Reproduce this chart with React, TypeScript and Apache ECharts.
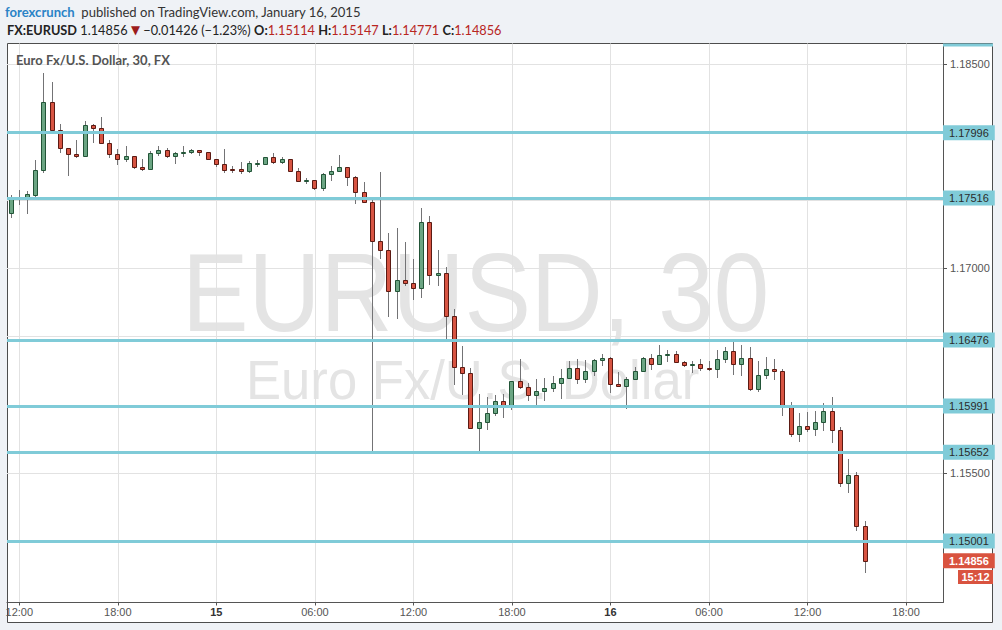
import React, { useEffect, useRef } from "react";
import * as echarts from "echarts";

// Each candle: [open, high, low, close] — 30-minute EUR/USD candles
const jan14Candles: number[][] = [
  [1.17409, 1.17539, 1.1738, 1.17507],
  [1.17507, 1.17575, 1.17473, 1.17517],
  [1.17512, 1.17568, 1.17409, 1.17544],
  [1.17539, 1.17795, 1.17526, 1.1772],
  [1.1772, 1.18434, 1.17707, 1.18221],
  [1.18221, 1.18368, 1.17996, 1.18018],
  [1.18018, 1.1806, 1.17856, 1.17881],
  [1.17881, 1.17881, 1.17685, 1.17842],
  [1.17842, 1.17942, 1.1782, 1.17827],
  [1.17827, 1.18081, 1.17827, 1.1805],
  [1.1805, 1.1806, 1.1793, 1.18032],
  [1.18032, 1.18109, 1.17918, 1.17918],
  [1.17918, 1.17942, 1.1782, 1.17842],
  [1.17842, 1.17874, 1.17768, 1.17805],
  [1.17805, 1.17898, 1.1779, 1.17823],
  [1.17823, 1.17827, 1.17737, 1.17746],
  [1.17746, 1.17803, 1.17724, 1.17732],
  [1.17732, 1.17864, 1.17732, 1.17845],
  [1.17845, 1.17898, 1.17832, 1.17867],
  [1.17867, 1.17881, 1.1782, 1.17827],
  [1.17827, 1.17856, 1.17773, 1.17845],
  [1.17845, 1.17898, 1.17825, 1.17852],
  [1.17852, 1.17876, 1.17845, 1.17869],
  [1.17869, 1.17872, 1.17834, 1.17852],
  [1.17852, 1.17852, 1.17805, 1.17805],
];

const jan15Candles: number[][] = [
  [1.17805, 1.17805, 1.17751, 1.17768],
  [1.17768, 1.17876, 1.17707, 1.17724],
  [1.17729, 1.17751, 1.17707, 1.17724],
  [1.17729, 1.17781, 1.17702, 1.17717],
  [1.17717, 1.17788, 1.17707, 1.17771],
  [1.17768, 1.17795, 1.17754, 1.17771],
  [1.17768, 1.17815, 1.17768, 1.17815],
  [1.17815, 1.17847, 1.17773, 1.17779],
  [1.17779, 1.17815, 1.17773, 1.17803],
  [1.17803, 1.17803, 1.17713, 1.17713],
  [1.17713, 1.17737, 1.17639, 1.17639],
  [1.17639, 1.17661, 1.17625, 1.17649],
  [1.17649, 1.17651, 1.17585, 1.17592],
  [1.17592, 1.17702, 1.17578, 1.17691],
  [1.17691, 1.17751, 1.17651, 1.17713],
  [1.17713, 1.17832, 1.17713, 1.17742],
  [1.17742, 1.17745, 1.17612, 1.17669],
  [1.17669, 1.17678, 1.17478, 1.17563],
  [1.17563, 1.17632, 1.1749, 1.1749],
  [1.1749, 1.17502, 1.15652, 1.17204],
  [1.17204, 1.17705, 1.17079, 1.17138],
  [1.17138, 1.17258, 1.16653, 1.16837],
  [1.16837, 1.17294, 1.16637, 1.16913],
  [1.16913, 1.17194, 1.16881, 1.16895],
  [1.16895, 1.17069, 1.16776, 1.16859],
  [1.16859, 1.17443, 1.16793, 1.17338],
  [1.17338, 1.17385, 1.16886, 1.16954],
  [1.16954, 1.17135, 1.16881, 1.16964],
  [1.16964, 1.17008, 1.1647, 1.16649],
  [1.16649, 1.16703, 1.16155, 1.16279],
  [1.16279, 1.16431, 1.16079, 1.16235],
  [1.16235, 1.16268, 1.15833, 1.15833],
  [1.15833, 1.16079, 1.15663, 1.15871],
  [1.15871, 1.16057, 1.15825, 1.15937],
  [1.15937, 1.16072, 1.15925, 1.16025],
  [1.16025, 1.16079, 1.15908, 1.15986],
  [1.15986, 1.16172, 1.15967, 1.16172],
  [1.16172, 1.16334, 1.16123, 1.16133],
  [1.16133, 1.16158, 1.16035, 1.1607],
  [1.1607, 1.16187, 1.16008, 1.16099],
  [1.16099, 1.16194, 1.16035, 1.16121],
  [1.16121, 1.16211, 1.16099, 1.16158],
  [1.16158, 1.1626, 1.16052, 1.16194],
  [1.16194, 1.16319, 1.16194, 1.16268],
  [1.16268, 1.16334, 1.16158, 1.16187],
  [1.16187, 1.16326, 1.16165, 1.16246],
  [1.16246, 1.16338, 1.16216, 1.16326],
  [1.16326, 1.16372, 1.1629, 1.16341],
];

const jan16Candles: number[][] = [
  [1.16341, 1.16348, 1.16092, 1.1615],
  [1.1615, 1.16238, 1.16136, 1.16136],
  [1.16136, 1.16202, 1.15979, 1.16187],
  [1.16187, 1.16275, 1.16187, 1.16246],
  [1.16246, 1.16348, 1.16246, 1.16341],
  [1.16341, 1.16372, 1.1626, 1.16297],
  [1.16297, 1.16438, 1.16297, 1.16363],
  [1.16363, 1.16402, 1.16319, 1.16372],
  [1.16372, 1.16392, 1.16312, 1.16312],
  [1.16312, 1.16319, 1.16282, 1.1629],
  [1.1629, 1.16319, 1.16238, 1.16297],
  [1.16297, 1.16334, 1.16253, 1.16268],
  [1.16268, 1.16319, 1.16253, 1.1626],
  [1.1626, 1.164, 1.16202, 1.16334],
  [1.16334, 1.16426, 1.16312, 1.16392],
  [1.16392, 1.16476, 1.16224, 1.16297],
  [1.16297, 1.16438, 1.16216, 1.16341],
  [1.16341, 1.16424, 1.16106, 1.16114],
  [1.16114, 1.16319, 1.16099, 1.16216],
  [1.16216, 1.16348, 1.16194, 1.1626],
  [1.1626, 1.16334, 1.16187, 1.16246],
  [1.16246, 1.1626, 1.15927, 1.15982],
  [1.15982, 1.16018, 1.15773, 1.15788],
  [1.15788, 1.15937, 1.15737, 1.15842],
  [1.15842, 1.15945, 1.1581, 1.15825],
  [1.15825, 1.15954, 1.1578, 1.15871],
  [1.15871, 1.16011, 1.15817, 1.15952],
  [1.15952, 1.16057, 1.15729, 1.15817],
  [1.15817, 1.15835, 1.15406, 1.15428],
  [1.15428, 1.15602, 1.1536, 1.15483],
  [1.15483, 1.15507, 1.15084, 1.15114],
  [1.15114, 1.15147, 1.14771, 1.14856],
];

const levelLines = [1.17996, 1.17516, 1.16476, 1.15991, 1.15652, 1.15001];
const lastPrice = 1.14856;
const timeToClose = "15:12";
const xTickSlots = [1, 13, 25, 37, 49, 61, 73, 85, 97, 109];
const slotCount = 114; // 30-min slots from Jan 14 11:30
const yMin = 1.1455;
const yMax = 1.1865;

const pad = (n: number) => (n < 10 ? "0" + n : "" + n);
const categories: string[] = [];
for (let i = 0; i < slotCount; i++) {
  const m = 11 * 60 + 30 + 30 * i;
  const day = 14 + Math.floor(m / 1440);
  const mm = m % 1440;
  categories.push(`${day} ${pad(Math.floor(mm / 60))}:${pad(mm % 60)}`);
}

const UP_FILL = "#6ba583";
const UP_BORDER = "#225437";
const DOWN_FILL = "#d75442";
const DOWN_BORDER = "#5b1a13";
const WICK = "#737375";
const CYAN = "#80cbd8";
const RED_LABEL = "#d9533f";

const levelSeries = (value: number, isLast: boolean) => ({
  type: "line",
  data: [],
  z: isLast ? 7 : 6,
  silent: true,
  markLine: {
    silent: true,
    symbol: "none",
    animation: false,
    precision: 5,
    lineStyle: isLast
      ? { color: "rgba(0,0,0,0)", width: 1, type: "solid" }
      : { color: CYAN, width: 3, type: "solid", opacity: 1 },
    label: {
      show: true,
      position: "end",
      distance: 0,
      formatter: () => value.toFixed(5),
      backgroundColor: isLast ? RED_LABEL : CYAN,
      color: isLast ? "#fff" : "#2b2b2b",
      fontWeight: isLast ? "bold" : "normal",
      fontSize: 11,
      fontFamily: "Liberation Sans",
      padding: [2, 6, 2, 6],
    },
    data: [{ yAxis: value }],
  },
});

export default function App() {
  const ref = useRef<HTMLDivElement>(null);

  useEffect(() => {
    const chart = echarts.init(ref.current!, null, { renderer: "svg" });
    const candles = [...jan14Candles, ...jan15Candles, ...jan16Candles];
    const data = candles.map((c, i) => [i, c[0], c[1], c[2], c[3]]);
    const isTick = (i: number) => xTickSlots.indexOf(i) >= 0;
    const covered = (v: number) =>
      [...levelLines, lastPrice].some((l) => Math.abs(l - v) < 0.0006);

    const option: any = {
      animation: false,
      backgroundColor: "#eff2f6",
      grid: { left: 7, right: 59, top: 43.5, bottom: 27.5, containLabel: false },
      xAxis: {
        type: "category",
        data: categories,
        boundaryGap: true,
        axisLine: { show: true, lineStyle: { color: "#555", width: 1 } },
        axisTick: {
          show: true,
          alignWithLabel: true,
          interval: (i: number) => isTick(i),
          length: 3,
          lineStyle: { color: "#555" },
        },
        axisLabel: {
          interval: (i: number) => isTick(i),
          formatter: (v: string) => {
            const [d, t] = v.split(" ");
            return t === "00:00" ? `{day|${d}}` : t;
          },
          color: "#555",
          fontSize: 11,
          fontFamily: "Liberation Sans",
          margin: 4,
          rich: {
            day: { fontWeight: "bold", color: "#333", fontSize: 11, fontFamily: "Liberation Sans" },
          },
        },
        splitLine: {
          show: true,
          interval: (i: number) => isTick(i),
          alignWithLabel: true,
          lineStyle: { color: "#e2e2e2", width: 1 },
        },
      },
      yAxis: {
        type: "value",
        position: "right",
        min: yMin,
        max: yMax,
        splitNumber: 8,
        axisLine: { show: true, lineStyle: { color: "#555" } },
        axisTick: { show: true, length: 4, lineStyle: { color: "#555" } },
        axisLabel: {
          showMinLabel: false,
          showMaxLabel: false,
          formatter: (v: number) => (covered(v) ? "" : v.toFixed(5)),
          color: "#555",
          fontSize: 11,
          fontFamily: "Liberation Sans",
          margin: 7,
        },
        splitLine: {
          show: true,
          showMinLine: false,
          showMaxLine: false,
          lineStyle: { color: "#e2e2e2", width: 1 },
        },
      },
      series: [
        {
          type: "custom",
          z: 2,
          data,
          encode: { x: 0, y: [1, 2, 3, 4] },
          renderItem: (params: any, api: any) => {
            const i = api.value(0);
            const o = api.value(1);
            const h = api.value(2);
            const l = api.value(3);
            const c = api.value(4);
            const pO = api.coord([i, o]);
            const pC = api.coord([i, c]);
            const pH = api.coord([i, h]);
            const pL = api.coord([i, l]);
            const x = Math.floor(pO[0]);
            const up = c >= o;
            const top = Math.round(Math.min(pO[1], pC[1])) + 0.5;
            const bot = Math.round(Math.max(pO[1], pC[1])) + 0.5;
            return {
              type: "group",
              children: [
                {
                  type: "line",
                  shape: { x1: x + 0.5, y1: Math.round(pH[1]), x2: x + 0.5, y2: Math.round(pL[1]) + 1 },
                  style: { stroke: WICK, lineWidth: 1 },
                },
                {
                  type: "rect",
                  shape: { x: x - 1.5, y: top, width: 4, height: Math.max(bot - top, 1) },
                  style: {
                    fill: up ? UP_FILL : DOWN_FILL,
                    stroke: up ? UP_BORDER : DOWN_BORDER,
                    lineWidth: 1,
                  },
                },
              ],
            };
          },
        },
        ...levelLines.map((v) => levelSeries(v, false)),
        levelSeries(lastPrice, true),
      ],
      graphic: [
        {
          type: "rect",
          z: -100,
          shape: { x: 7.5, y: 43.5, width: 985, height: 579 },
          style: { fill: "#fff", stroke: "#4d4d4d", lineWidth: 1 },
        },
        {
          type: "text",
          z: -50,
          x: 182,
          y: 292,
          scaleX: 0.89,
          style: {
            text: "EURUSD, 30",
            x: 0,
            y: 0,
            fontSize: 112,
            fontFamily: "Liberation Sans",
            fill: "#e4e4e4",
            align: "left",
            textAlign: "left",
            verticalAlign: "middle",
            textVerticalAlign: "middle",
          },
        },
        {
          type: "text",
          z: -50,
          x: 246,
          y: 380,
          scaleX: 0.94,
          style: {
            text: "Euro Fx/U.S. Dollar",
            x: 0,
            y: 0,
            fontSize: 56,
            fontFamily: "Liberation Sans",
            fill: "#e4e4e4",
            align: "left",
            textAlign: "left",
            verticalAlign: "middle",
            textVerticalAlign: "middle",
          },
        },
        {
          type: "text",
          z: 10,
          x: 16,
          y: 60,
          style: {
            text: "Euro Fx/U.S. Dollar, 30, FX",
            x: 0,
            y: 0,
            fontSize: 13,
            fontWeight: "bold",
            fontFamily: "Lato",
            fill: "#535353",
            align: "left",
            textAlign: "left",
            verticalAlign: "middle",
            textVerticalAlign: "middle",
          },
        },
        {
          type: "text",
          z: 10,
          x: 5,
          y: 12,
          scaleX: 0.97,
          style: {
            text: "{a|forexcrunch}  {b|published on TradingView.com, January 16, 2015}",
            x: 0,
            y: 0,
            align: "left",
            textAlign: "left",
            verticalAlign: "middle",
            textVerticalAlign: "middle",
            rich: {
              a: { fontSize: 13.5, fontWeight: "bold", fontFamily: "Lato", fill: "#2a83c6" },
              b: { fontSize: 13.5, fontFamily: "Lato", fill: "#333" },
            },
          },
        },
        {
          type: "text",
          z: 10,
          x: 7,
          y: 29.5,
          scaleX: 0.98,
          style: {
            text:
              "{k|FX:EURUSD} {n|1.14856} {t|▼} {n|−0.01426 (−1.23%)} {k|O:}{r|1.15114} {k|H:}{r|1.15147} {k|L:}{r|1.14771} {k|C:}{r|1.14856}",
            x: 0,
            y: 0,
            align: "left",
            textAlign: "left",
            verticalAlign: "middle",
            textVerticalAlign: "middle",
            rich: {
              k: { fontSize: 13, fontWeight: "bold", fontFamily: "Lato", fill: "#222" },
              n: { fontSize: 13, fontFamily: "Lato", fill: "#222" },
              t: { fontSize: 12, fontFamily: "DejaVu Sans", fill: "#9c1c1c" },
              r: { fontSize: 13, fontFamily: "Lato", fill: "#b8261f" },
            },
          },
        },
        {
          type: "rect",
          z: 10,
          shape: { x: 943, y: 43.5, width: 50, height: 3 },
          style: { fill: CYAN },
        },
        {
          type: "rect",
          z: 10,
          shape: { x: 958, y: 570, width: 35, height: 14 },
          style: { fill: RED_LABEL },
        },
        {
          type: "text",
          z: 11,
          x: 975.5,
          y: 577,
          style: {
            text: timeToClose,
            x: 0,
            y: 0,
            fontSize: 11,
            fontWeight: "bold",
            fontFamily: "Liberation Sans",
            fill: "#fff",
            align: "center",
            textAlign: "center",
            verticalAlign: "middle",
            textVerticalAlign: "middle",
          },
        },
      ],
    };

    chart.setOption(option);
    return () => chart.dispose();
  }, []);

  return (
    <div
      ref={ref}
      style={{ position: "fixed", left: 0, top: 0, width: 1002, height: 630 }}
    />
  );
}
